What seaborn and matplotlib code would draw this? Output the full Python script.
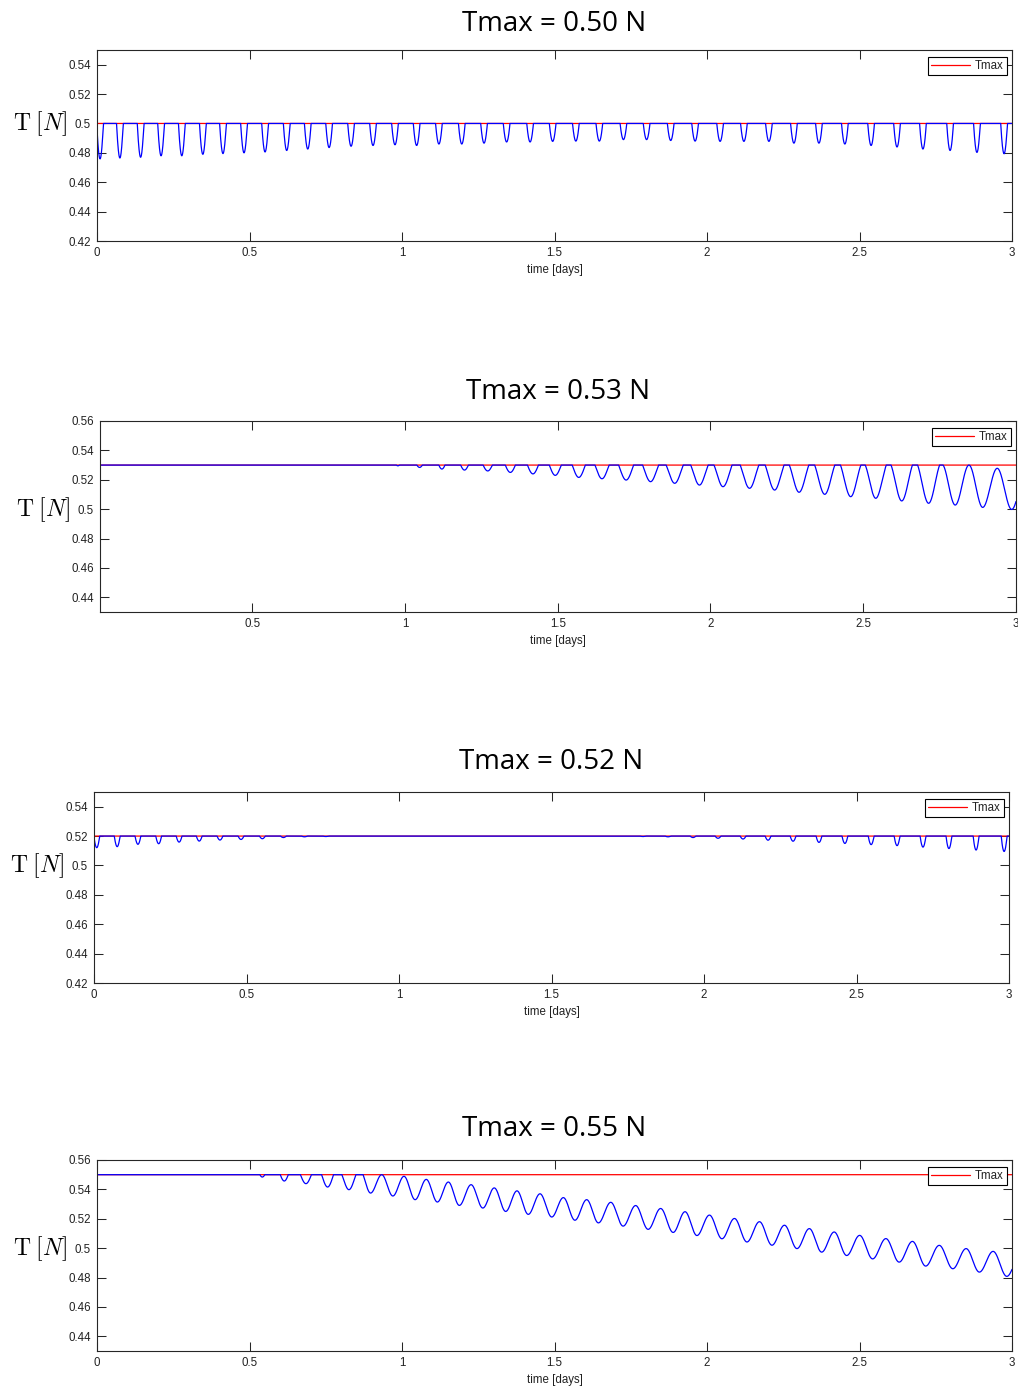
import numpy as np
import pandas as pd
import matplotlib
matplotlib.use("Agg")
import matplotlib.pyplot as plt
import matplotlib.transforms as mtransforms
import seaborn as sns

# ---------------------------------------------------------------- data
titles = ["Tmax = 0.50 N", "Tmax = 0.53 N", "Tmax = 0.52 N", "Tmax = 0.55 N"]
tmax_levels = [0.50, 0.53, 0.52, 0.55]

# Tmax = 0.50 N : trough times [days] and trough tension [N]
p1_trough_t = [0.010, 0.075, 0.143, 0.210, 0.278, 0.347, 0.413, 0.482, 0.551, 0.622,
               0.691, 0.761, 0.833, 0.905, 0.977, 1.048, 1.121, 1.196, 1.269, 1.343,
               1.420, 1.494, 1.570, 1.647, 1.726, 1.802, 1.881, 1.961, 2.043, 2.121,
               2.203, 2.285, 2.367, 2.452, 2.538, 2.623, 2.708, 2.797, 2.885, 2.974]
p1_trough_T = [0.4759, 0.4765, 0.4770, 0.4780, 0.4780, 0.4790, 0.4795, 0.4800, 0.4806, 0.4816,
               0.4826, 0.4836, 0.4845, 0.4850, 0.4855, 0.4850, 0.4860, 0.4860, 0.4866, 0.4874,
               0.4874, 0.4878, 0.4880, 0.4880, 0.4890, 0.4890, 0.4884, 0.4880, 0.4878, 0.4878,
               0.4878, 0.4866, 0.4866, 0.4860, 0.4850, 0.4840, 0.4826, 0.4816, 0.4803, 0.4794]
p1_width = 0.022
p1_crest = None

# Tmax = 0.53 N
p2_trough_t = [0.977, 1.048, 1.121, 1.195, 1.271, 1.345, 1.419, 1.492, 1.569, 1.645,
               1.724, 1.804, 1.883, 1.964, 2.041, 2.128, 2.210, 2.290, 2.374, 2.459,
               2.541, 2.626, 2.714, 2.801, 2.891, 2.986]
p2_trough_T = [0.5295, 0.5284, 0.5273, 0.5266, 0.5260, 0.5250, 0.5240, 0.5230, 0.5216, 0.5207,
               0.5198, 0.5187, 0.5176, 0.5164, 0.5153, 0.5142, 0.5130, 0.5115, 0.5101, 0.5085,
               0.5074, 0.5056, 0.5040, 0.5028, 0.5012, 0.4998]
p2_width = [0.010, 0.018, 0.020, 0.025, 0.030, 0.033, 0.036, 0.039, 0.043, 0.046,
            0.049, 0.052, 0.056, 0.057, 0.059, 0.061, 0.062, 0.064, 0.066, 0.067,
            0.069, 0.070, 0.072, 0.079, 0.085, 0.092]
p2_crest = [np.nan] * 24 + [0.5300, 0.5278, 0.5270]

# Tmax = 0.52 N
p3_trough_t = [0.009, 0.076, 0.144, 0.212, 0.279, 0.345, 0.413, 0.482, 0.552, 0.621,
               0.690, 0.760,
               1.800, 1.882, 1.964, 2.046, 2.128, 2.210, 2.292, 2.377, 2.462, 2.548,
               2.633, 2.718, 2.803, 2.892, 2.984]
p3_trough_T = [0.5121, 0.5128, 0.5144, 0.5148, 0.5159, 0.5166, 0.5173, 0.5177, 0.5182, 0.5190,
               0.5195, 0.5197,
               0.5197, 0.5195, 0.5190, 0.5185, 0.5180, 0.5172, 0.5165, 0.5157, 0.5150, 0.5142,
               0.5135, 0.5125, 0.5115, 0.5105, 0.5095]
p3_width = 0.019
p3_crest = [np.nan] * 28

# Tmax = 0.55 N
p4_trough_t = [0.542, 0.614, 0.685, 0.756, 0.826, 0.897, 0.970, 1.043, 1.116, 1.188,
               1.265, 1.340, 1.414, 1.491, 1.567, 1.644, 1.725, 1.807, 1.889, 1.967,
               2.049, 2.131, 2.213, 2.295, 2.376, 2.458, 2.543, 2.630, 2.717, 2.806,
               2.893, 2.983]
p4_trough_T = [0.5484, 0.5457, 0.5439, 0.5416, 0.5398, 0.5375, 0.5355, 0.5330, 0.5314, 0.5291,
               0.5273, 0.5250, 0.5230, 0.5212, 0.5190, 0.5172, 0.5150, 0.5128, 0.5107, 0.5086,
               0.5064, 0.5042, 0.5020, 0.4997, 0.4973, 0.4950, 0.4927, 0.4905, 0.4878, 0.4860,
               0.4837, 0.4808]
p4_width = [0.016, 0.026, 0.036, 0.039, 0.046, 0.049] + [0.070] * 26
p4_crest = ([np.nan] * 6 +
            [0.5500, 0.5489, 0.5468, 0.5450, 0.5432, 0.5410, 0.5390, 0.5370, 0.5344, 0.5330,
             0.5312, 0.5290, 0.5270, 0.5248, 0.5225, 0.5202, 0.5180, 0.5156,
             0.5133, 0.5110, 0.5087, 0.5065, 0.5046, 0.5019, 0.4997, 0.4978, 0.4960])

yticks_a = [0.42, 0.44, 0.46, 0.48, 0.50, 0.52, 0.54]
ylabels_a = ["0.42", "0.44", "0.46", "0.48", "0.5", "0.52", "0.54"]
yticks_b = [0.44, 0.46, 0.48, 0.50, 0.52, 0.54, 0.56]
ylabels_b = ["0.44", "0.46", "0.48", "0.5", "0.52", "0.54", "0.56"]
xticks_a = [0, 0.5, 1, 1.5, 2, 2.5, 3]
xlabels_a = ["0", "0.5", "1", "1.5", "2", "2.5", "3"]
xticks_b = [0.5, 1, 1.5, 2, 2.5, 3]
xlabels_b = ["0.5", "1", "1.5", "2", "2.5", "3"]


def tension(t, tmax, trough_t, trough_T, width, crest):
    """Saturated tension: smooth swings between the given troughs and crests,
    capped at Tmax. A NaN crest is clipped; its level is set so that the dip
    crosses Tmax over the given width."""
    tt = np.asarray(trough_t, float)
    tv = np.asarray(trough_T, float)
    n = len(tt)
    w = np.broadcast_to(np.asarray(width, float), (n,))
    cr = np.full(n + 1, np.nan) if crest is None else np.asarray(crest, float)
    gaps = np.diff(tt)
    half_left = np.concatenate([[gaps[0]], gaps]) / 2
    half_right = np.concatenate([gaps, [gaps[-1]]]) / 2
    j = np.searchsorted(tt, t)
    jl = np.clip(j - 1, 0, n - 1)
    jr = np.clip(j, 0, n - 1)
    i = np.where(np.abs(t - tt[jl]) <= np.abs(tt[jr] - t), jl, jr)
    right = t >= tt[i]
    D = np.where(right, half_right[i], half_left[i])
    c = np.where(right, cr[i + 1], cr[i])
    m = tv[i]
    hw = w[i] / 2
    g = (1 - np.cos(np.pi * np.minimum(hw / D, 1.0))) / 2
    c_fit = np.where(hw < D, m + (tmax - m) / g, tmax)
    c = np.where(np.isnan(c), c_fit, c)
    s = np.minimum(np.abs(t - tt[i]), D)
    f = m + (c - m) * (1 - np.cos(np.pi * s / D)) / 2
    return np.minimum(f, tmax)


# ---------------------------------------------------------------- style
sns.set_theme(style="white")
plt.rcParams["font.family"] = ["Liberation Sans", "DejaVu Sans"]
plt.rcParams["mathtext.fontset"] = "cm"
edge = "#262626"

W, H = 1018, 1387
fig = plt.figure(figsize=(W / 100, H / 100), dpi=100, facecolor="white")

# axes boxes in pixels: left, top, right, bottom
boxes = [(97, 50, 1012, 241), (100, 421, 1016, 612),
         (94, 792, 1009, 983), (97, 1160, 1012, 1351)]
ylims = [(0.42, 0.55), (0.43, 0.56), (0.42, 0.55), (0.43, 0.56)]
xlims = [(0, 3), (0.002, 3), (0, 3), (0, 3)]
ytick_sets = [(yticks_a, ylabels_a), (yticks_b, ylabels_b),
              (yticks_a, ylabels_a), (yticks_b, ylabels_b)]
xtick_sets = [(xticks_a, xlabels_a), (xticks_b, xlabels_b),
              (xticks_a, xlabels_a), (xticks_a, xlabels_a)]
title_pads = [14, 16, 16.5, 17]
panels = [(p1_trough_t, p1_trough_T, p1_width, p1_crest),
          (p2_trough_t, p2_trough_T, p2_width, p2_crest),
          (p3_trough_t, p3_trough_T, p3_width, p3_crest),
          (p4_trough_t, p4_trough_T, p4_width, p4_crest)]

t = np.linspace(0, 3, 6001)

for k in range(4):
    l, tp, r, b = boxes[k]
    ax = fig.add_axes([l / W, 1 - b / H, (r - l) / W, (b - tp) / H])
    tmax = tmax_levels[k]
    tt, tv, wd, cr = panels[k]
    df = pd.DataFrame({"time": t,
                       "Tmax": np.full_like(t, tmax),
                       "T": tension(t, tmax, tt, tv, wd, cr)})
    sns.lineplot(data=df, x="time", y="Tmax", ax=ax, color="#ff0000",
                 linewidth=0.9, label="Tmax", estimator=None, sort=False)
    sns.lineplot(data=df, x="time", y="T", ax=ax, color="#0000ff",
                 linewidth=0.9, estimator=None, sort=False)

    ax.set_xlim(*xlims[k])
    ax.set_ylim(*ylims[k])
    xt, xl = xtick_sets[k]
    yt, yl = ytick_sets[k]
    ax.set_xticks(xt)
    ax.set_xticklabels(xl)
    ax.set_yticks(yt)
    ax.set_yticklabels(yl)
    ax.tick_params(direction="in", length=6.5, width=0.75, color=edge,
                   labelsize=8.3, labelcolor="#222222", pad=4.3,
                   top=True, right=True, bottom=True, left=True)
    for sp in ax.spines.values():
        sp.set_color(edge)
        sp.set_linewidth(0.8)
        sp.set_visible(True)

    ax.set_xlabel("time [days]", fontsize=8.3, color="#222222", labelpad=3.5)
    ax.set_ylabel("")
    ax.set_title(titles[k], fontsize=20, family=["Open Sans", "DejaVu Sans"],
                 color="black", pad=title_pads[k])

    trans = mtransforms.blended_transform_factory(ax.transAxes, ax.transData)
    ax.text(-0.062, 0.50, r"$\mathrm{T}\;[N]$", transform=trans, fontsize=17,
            ha="center", va="center", color="black")

    leg = ax.legend(loc="upper right", bbox_to_anchor=(1 - 5 / (r - l), 1 - 7 / (b - tp)),
                    borderaxespad=0, fontsize=8.3, frameon=True, fancybox=False,
                    shadow=False, framealpha=1, edgecolor="black",
                    handlelength=3.4, handletextpad=0.4, borderpad=0.28)
    leg.get_frame().set_linewidth(0.8)
    for txt in leg.get_texts():
        txt.set_color("#222222")

fig.savefig("out.png", dpi=100, facecolor="white")
